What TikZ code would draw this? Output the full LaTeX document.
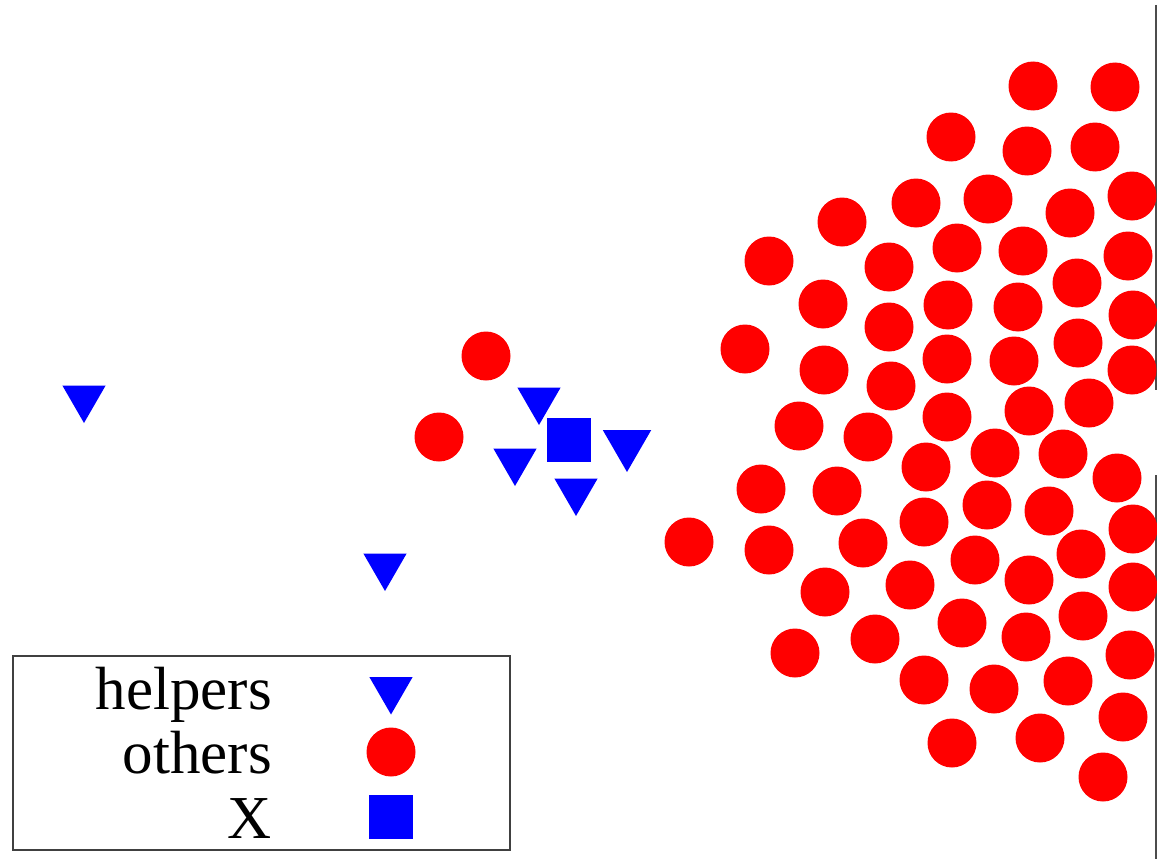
\documentclass[tikz,border=0pt]{standalone}
\usepackage{fontspec}
\setmainfont{Liberation Serif}
\usetikzlibrary{shapes.geometric}
\definecolor{plotred}{RGB}{255,0,0}
\definecolor{plotblue}{RGB}{0,0,255}
\tikzset{
  other/.style={circle,fill=plotred,draw=none,minimum size=49pt,inner sep=0pt,outer sep=0pt},
  helper/.style={regular polygon,regular polygon sides=3,shape border rotate=180,fill=plotblue,draw=none,minimum size=50pt,inner sep=0pt,outer sep=0pt},
  bighelper/.style={helper,minimum size=56pt},
  xsq/.style={rectangle,fill=plotblue,draw=none,minimum size=44pt,inner sep=0pt,outer sep=0pt},
  legtext/.style={anchor=base east,inner sep=0pt,font=\fontsize{61}{61}\selectfont},
  axisline/.style={draw=black!70,line width=2pt},
  legbox/.style={draw=black!75,line width=1.6pt}
}
\begin{document}
\begin{tikzpicture}[x=1pt,y=-1pt]
\useasboundingbox (0,0) rectangle (1157,859);
\clip (0,0) rectangle (1157,859);
\fill[white] (0,0) rectangle (1157,859);
% axis line on the right
\coordinate (a1) at (1156,5);
\coordinate (a2) at (1156,390);
\coordinate (a3) at (1156,475);
\coordinate (a4) at (1156,859);
\draw[axisline] (a1) -- (a2);
\draw[axisline] (a3) -- (a4);
% others (red circles)
\foreach \x/\y [count=\i] in {
1033/86,1115/87,951/137,1027/151,1095/147,1132/196,988/199,916/203,1070/213,842/222,
769/261,889/267,957/248,1023/251,1128/256,1077/283,823/304,948/305,1018/307,1133/315,
745/349,889/327,1078/343,947/359,1014/361,824/370,1132/370,891/386,1029/411,1089/403,
799/426,868/437,947/417,
761/489,837/491,926/467,995/453,1063/454,1117/478,689/542,769/550,863/543,924/522,
987/505,1049/511,1133/529,975/560,1081/554,1029/580,1133/587,825/592,910/585,962/623,
1083/616,1026/637,1130/655,795/653,875/639,924/680,994/689,1068/681,1123/717,952/743,
1040/738,1103/777,486/356,439/437}
  \node[other] (o\i) at (\x,\y) {};
% helpers (blue triangles)
\node[helper] (h1) at (84,398) {};
\node[helper] (h2) at (385,566) {};
\node[helper] (h3) at (539,400) {};
\node[bighelper] (h4) at (627,444) {};
\node[helper] (h5) at (515,461) {};
\node[helper] (h6) at (576,491) {};
% X (blue square)
\node[xsq] (x) at (569,440) {};
% legend
\node[legbox,rectangle,minimum width=497pt,minimum height=194pt,inner sep=0pt,anchor=north west] (leg) at (12,655) {};
\node[legtext] (lh) at (272,709) {helpers};
\node[legtext] (lo) at (272,773) {others};
\node[legtext] (lx) at (272,838) {X};
\node[helper] (lgh) at (391,689.5) {};
\node[other] (lgo) at (391,752) {};
\node[xsq] (lgx) at (391,816.5) {};
\end{tikzpicture}
\end{document}
